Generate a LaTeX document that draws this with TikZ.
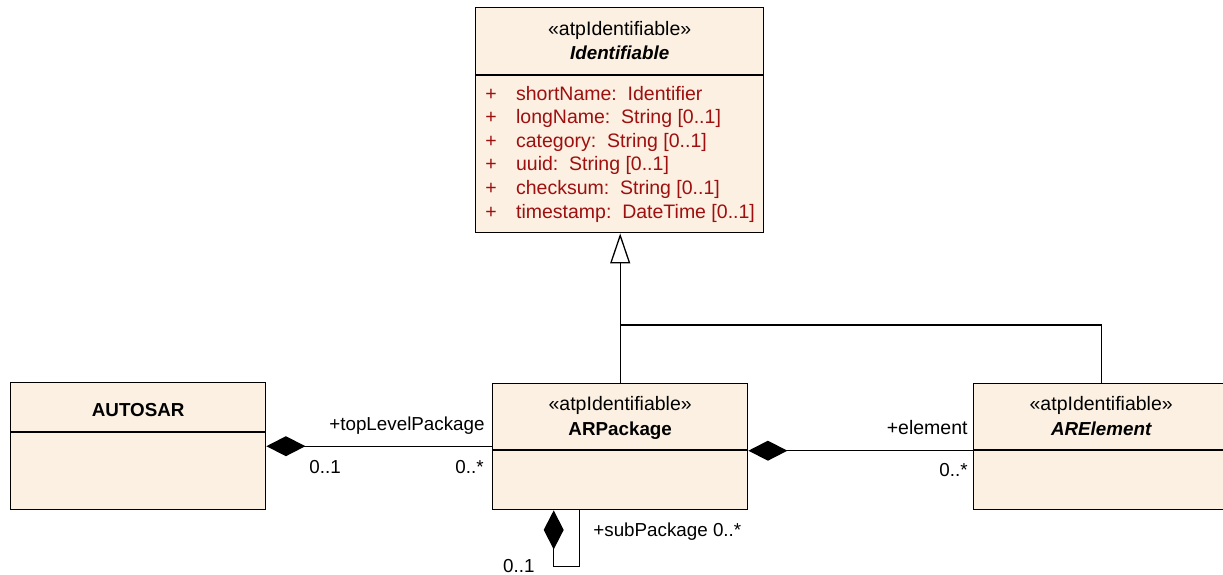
\documentclass[tikz,border=0pt]{standalone}
\usepackage{fontspec}
\setmainfont{Liberation Sans}
\usepackage{tikz}
\usetikzlibrary{arrows.meta,calc}
\definecolor{clsfill}{HTML}{FBF0E1}
\definecolor{attrc}{HTML}{9E0F0F}
\newcommand\umlsize{\fontsize{9.4}{11}\selectfont}
\newcommand\umlwide{\fontsize{9.75}{11}\selectfont}

\begin{document}
\begin{tikzpicture}[x=0.5pt, y=-0.5pt, font=\umlsize,
  cls/.style={draw=black, line width=0.7pt, fill=clsfill, anchor=north west, inner sep=0pt},
  txt/.style={anchor=base, inner sep=0pt},
  attr/.style={anchor=base west, inner sep=0pt, text=attrc, font=\umlwide},
  ln/.style={line width=0.65pt, draw=black},
  gen/.style={ln, -{Triangle[length=15pt, width=10pt, fill=white]}},
  comp/.style={ln, {Diamond[length=19.5pt, width=10pt]}-}]
\useasboundingbox (0,0) rectangle (1223,574);
% classes
\node[cls, minimum width=144pt, minimum height=112.5pt] (idf) at (475,7) {};
\node[cls, minimum width=127.5pt, minimum height=63.5pt] (aut) at (10,382) {};
\node[cls, minimum width=127.5pt, minimum height=63pt] (pkg) at (492,383) {};
\node[cls, minimum width=127.5pt, minimum height=63pt] (ele) at (973,383) {};
\foreach \n/\d in {idf/68,aut/50,pkg/67,ele/67}
  \draw[ln] ($(\n.north west)+(0,\d)$) -- ($(\n.north east)+(0,\d)$);
% class headers
\node[txt, font=\umlwide] (idfst) at (idf.north |- 0,35) {«atpIdentifiable»};
\node[txt, font=\umlsize\bfseries\itshape] (idfnm) at (idf.north |- 0,59) {Identifiable};
\node[txt, font=\umlsize\bfseries] (autnm) at (aut.north |- 0,416) {AUTOSAR};
\node[txt, font=\umlwide] (pkgst) at (pkg.north |- 0,410) {«atpIdentifiable»};
\node[txt, font=\umlsize\bfseries] (pkgnm) at (pkg.north |- 0,435) {ARPackage};
\node[txt, font=\umlwide] (elest) at (ele.north |- 0,410) {«atpIdentifiable»};
\node[txt, font=\umlsize\bfseries\itshape] (elenm) at (ele.north |- 0,435) {ARElement};
% attributes
\foreach \a [count=\i from 0] in {{shortName:~~Identifier},{longName:~~String [0..1]},
    {category:~~String [0..1]},{uuid:~~String [0..1]},{checksum:~~String [0..1]},
    {timestamp:~~DateTime [0..1]}}{
  \node[attr] (plus\i) at (485,100+23.6*\i) {+};
  \node[attr] (attr\i) at (515.7,100+23.6*\i) {\a};
}
% generalization
\draw[gen] (pkg.north) -- (pkg.north |- idf.south);
\coordinate (jn) at (pkg.north |- 0,325);
\draw[ln] (ele.north) |- (jn);
% compositions
\draw[comp] (aut.east) -- (aut.east -| pkg.west);
\draw[comp] ([yshift=-2pt]pkg.east) -- ([yshift=-2pt]pkg.east -| ele.west);
\draw[comp] ([xshift=-33.25pt]pkg.south) -- ++(0,56) -| ([xshift=-20.25pt]pkg.south);
% role names and multiplicities
\node[txt, anchor=base east] (tlp) at (485,430) {+topLevelPackage};
\node[txt, anchor=base west] (tlpm1) at (309,473) {0..1};
\node[txt, anchor=base east] (tlpm2) at (484,473) {0..*};
\node[txt, anchor=base east, font=\umlwide] (elr) at (968,434) {+element};
\node[txt, anchor=base east] (elm) at (968,476) {0..*};
\node[txt, anchor=base west] (sub) at (593,536) {+subPackage 0..*};
\node[txt, anchor=base east] (subm) at (535,572) {0..1};
\end{tikzpicture}
\end{document}
